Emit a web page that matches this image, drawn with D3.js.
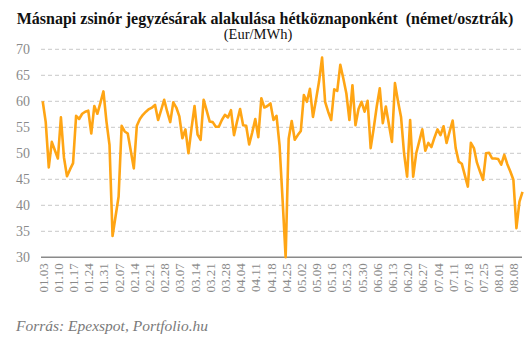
<!DOCTYPE html>
<html>
<head>
<meta charset="utf-8">
<script src="https://cdn.jsdelivr.net/npm/d3@7"></script>
<style>
  html, body { margin: 0; padding: 0; background: #fff; }
  svg { display: block; }
</style>
</head>
<body>
<svg id="chart" width="531" height="342"></svg>
<script>
// Day-ahead baseload prices, German/Austrian market, every weekday of 2011 (Jan 3 – Aug 11)
const startDate = "2011-01-03";
const endDate = "2011-08-11";

const prices = [
  60.0, 56.0, 47.3, 52.2, 50.6, 49.0, 56.9, 49.2, 45.6, 46.9,
  48.1, 57.2, 56.6, 57.6, 58.0, 58.2, 53.8, 59.1, 57.6, 59.7,
  61.9, 56.1, 51.6, 34.1, 37.9, 41.7, 55.3, 54.2, 53.8, 50.5,
  47.1, 55.3, 56.6, 57.4, 58.0, 58.5, 58.8, 59.3, 56.4, 58.3,
  60.3, 58.0, 56.0, 59.8, 58.8, 57.1, 52.9, 54.6, 50.0, 54.8,
  59.1, 53.6, 52.6, 60.3, 58.2, 56.1, 56.0, 55.1, 55.1, 56.4,
  57.4, 56.9, 58.3, 53.5, 56.1, 58.5, 55.4, 55.3, 51.7, 54.0,
  56.6, 53.1, 60.6, 58.8, 59.1, 59.6, 56.4, 57.2, 51.5, 41.0,
  30.0, 52.8, 56.2, 52.6, 53.5, 54.3, 61.2, 59.9, 62.4, 57.0,
  60.3, 63.8, 68.4, 59.9, 58.0, 56.4, 62.3, 62.0, 67.0, 64.4,
  61.5, 56.4, 63.1, 55.4, 58.5, 59.9, 58.0, 60.1, 51.0, 54.8,
  59.0, 62.5, 55.8, 59.0, 55.6, 52.2, 63.5, 60.0, 57.0, 50.0,
  45.5, 56.4, 45.5, 50.0, 52.3, 54.6, 50.5, 52.0, 51.2, 53.0,
  54.6, 53.5, 55.2, 52.0, 54.2, 56.3, 51.0, 48.4, 48.0, 45.8,
  43.6, 52.0, 51.0, 48.2, 46.5, 44.9, 50.0, 50.1, 49.0, 49.0,
  48.9, 47.8, 49.7, 47.9, 46.5, 44.9, 35.6, 40.7, 42.6
];

// Mondays shown on the category axis
const tickLabels = [
  "01.03", "01.10", "01.17", "01.24", "01.31", "02.07", "02.14", "02.21",
  "02.28", "03.07", "03.14", "03.21", "03.28", "04.04", "04.11", "04.18",
  "04.25", "05.02", "05.09", "05.16", "05.23", "05.30", "06.06", "06.13",
  "06.20", "06.27", "07.04", "07.11", "07.18", "07.25", "08.01", "08.08"
];

const yTicks = [30, 35, 40, 45, 50, 55, 60, 65, 70];

const titleText = "Másnapi zsinór jegyzésárak alakulása hétköznaponként  (német/osztrák)";
const unitText = "(Eur/MWh)";
const sourceText = "Forrás: Epexspot, Portfolio.hu";

// weekday calendar used as the category axis
const parse = d3.utcParse("%Y-%m-%d");
const fmt = d3.utcFormat("%m.%d");
const days = d3.utcDay.range(parse(startDate), d3.utcDay.offset(parse(endDate), 1))
  .filter(d => d.getUTCDay() !== 0 && d.getUTCDay() !== 6)
  .map(fmt);

const rows = days.map((d, i) => ({ day: d, value: prices[i] }));

const svg = d3.select("#chart");
const plotLeft = 42.7, plotRight = 522.5, plotTop = 49.3, plotBottom = 257.3;

const x = d3.scalePoint().domain(days).range([plotLeft, plotRight]);
const y = d3.scaleLinear().domain([30, 70]).range([plotBottom, plotTop]);

const serif = "'Liberation Serif', 'DejaVu Serif', serif";

// title
svg.append("text")
  .attr("x", 265).attr("y", 24)
  .attr("text-anchor", "middle")
  .attr("font-family", serif)
  .attr("font-weight", "bold")
  .attr("font-size", 16)
  .attr("fill", "#111")
  .style("white-space", "pre")
  .text(titleText);

svg.append("text")
  .attr("x", 258).attr("y", 38.5)
  .attr("text-anchor", "middle")
  .attr("font-family", serif)
  .attr("font-size", 14.5)
  .attr("fill", "#111")
  .text(unitText);

// horizontal grid
svg.append("g")
  .selectAll("line")
  .data(yTicks.filter(t => t !== 30))
  .join("line")
  .attr("x1", 41).attr("x2", 522)
  .attr("y1", d => y(d)).attr("y2", d => y(d))
  .attr("stroke", "#c8c8c8")
  .attr("stroke-width", 1)
  .attr("stroke-dasharray", "4,3");

// y axis labels
const yAxis = svg.append("g")
  .attr("transform", `translate(${30},0)`)
  .call(d3.axisLeft(y).tickValues(yTicks).tickSize(0).tickPadding(0));
yAxis.select(".domain").remove();
yAxis.selectAll("text")
  .attr("font-family", serif)
  .attr("font-size", 14)
  .attr("fill", "#8a8a8a");

// x axis
const xAxis = svg.append("g")
  .attr("transform", `translate(0,${plotBottom})`)
  .call(d3.axisBottom(x).tickValues(tickLabels).tickSize(0).tickPadding(0));
xAxis.select(".domain")
  .attr("d", `M41,0H522`)
  .attr("stroke", "#8a8a8a")
  .attr("stroke-width", 1.5);
xAxis.selectAll("text")
  .attr("font-family", serif)
  .attr("font-size", 13)
  .attr("fill", "#8a8a8a")
  .attr("text-anchor", "end")
  .attr("transform", "rotate(-90)")
  .attr("x", -6)
  .attr("y", 0)
  .attr("dy", "0.35em");

// price line
const line = d3.line()
  .x(d => x(d.day))
  .y(d => y(d.value));

svg.append("path")
  .datum(rows)
  .attr("d", line)
  .attr("fill", "none")
  .attr("stroke", "#ffa514")
  .attr("stroke-width", 2.6)
  .attr("stroke-linejoin", "round");

// source
svg.append("text")
  .attr("x", 16).attr("y", 331)
  .attr("font-family", serif)
  .attr("font-style", "italic")
  .attr("font-size", 15.5)
  .attr("fill", "#7a7a7a")
  .text(sourceText);
</script>
</body>
</html>
